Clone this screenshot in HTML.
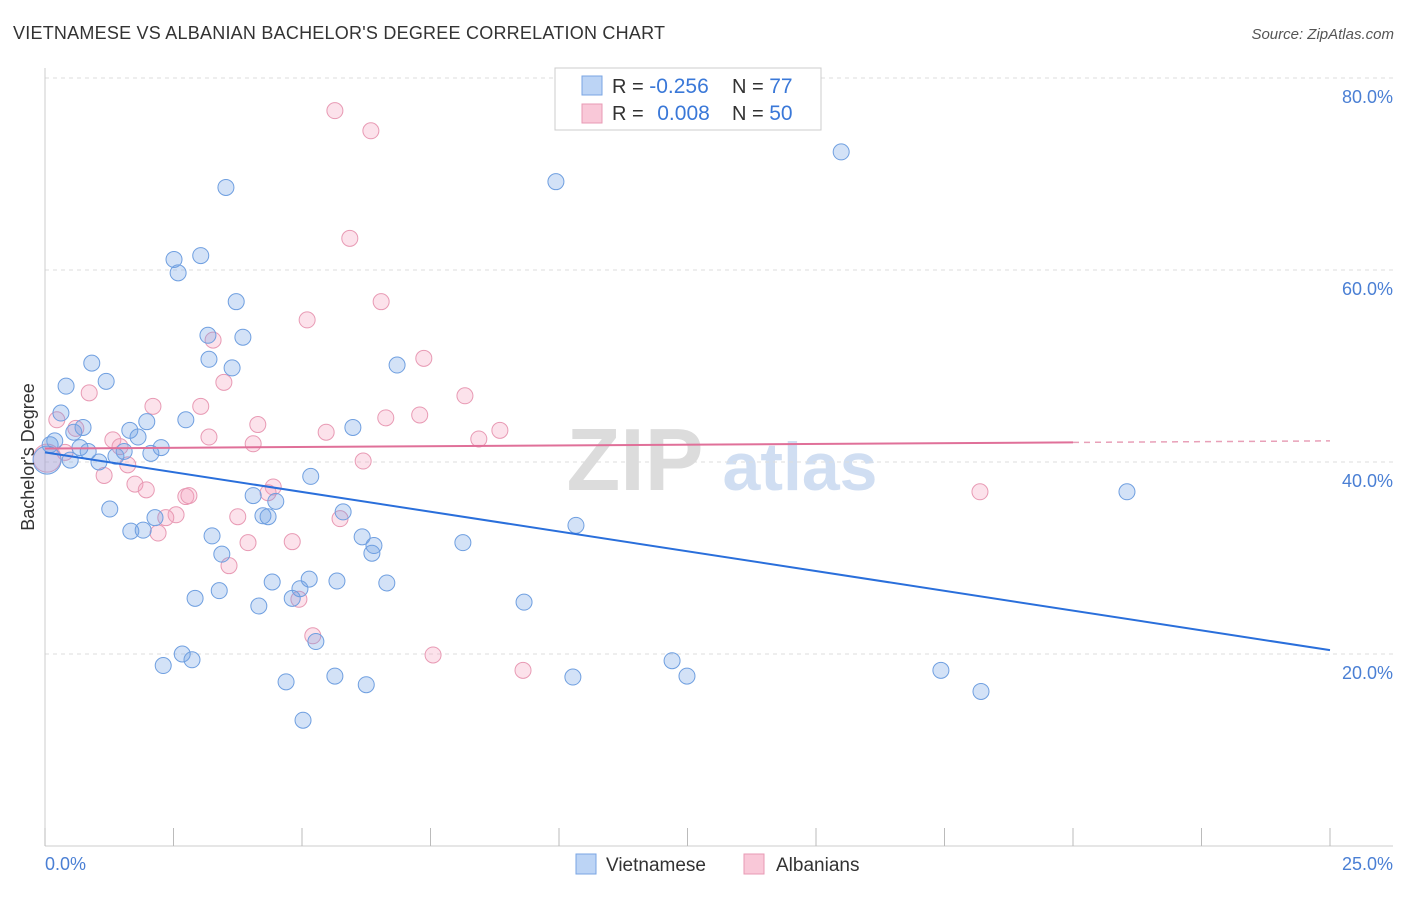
<!DOCTYPE html>
<html><head><meta charset="utf-8">
<style>
body{margin:0;background:#fff;font-family:"Liberation Sans",sans-serif;}
svg text{font-family:"Liberation Sans",sans-serif;}
</style></head>
<body>
<svg id="chart" width="1406" height="892" viewBox="0 0 1406 892">
<text x="13" y="39" font-size="18" fill="#333" textLength="652">VIETNAMESE VS ALBANIAN BACHELOR'S DEGREE CORRELATION CHART</text>
<text x="1394" y="39" font-size="15" font-style="italic" fill="#555" text-anchor="end">Source: ZipAtlas.com</text>
<g>
<text x="635" y="490" font-size="88" font-family="Liberation Serif" fill="#dcdcdc" text-anchor="middle" font-weight="bold">ZIP</text>
<text x="800" y="490" font-size="68" fill="#d0def2" text-anchor="middle" font-weight="bold">atlas</text>
</g>
<g id="grid"></g>
<g id="axes"></g>
<g id="points"></g>
<g id="trends"></g>
<g>
<rect x="555" y="68" width="266" height="62" fill="#fff" stroke="#ccc"/>
<rect x="582" y="76" width="20" height="19" fill="#bcd4f5" stroke="#7aa5e3"/>
<rect x="582" y="104" width="20" height="19" fill="#f9c8d8" stroke="#e89ab4"/>
<text x="612" y="93" font-size="20" fill="#333">R = <tspan fill="#3a78d8" font-size="21">-0.256</tspan></text>
<text x="732" y="93" font-size="20" fill="#333">N = <tspan fill="#3a78d8" font-size="21">77</tspan></text>
<text x="612" y="120" font-size="20" fill="#333">R = <tspan fill="#3a78d8" dx="8" font-size="21">0.008</tspan></text>
<text x="732" y="120" font-size="20" fill="#333">N = <tspan fill="#3a78d8" font-size="21">50</tspan></text>
</g>
<g>
<rect x="576" y="854" width="20" height="20" fill="#bcd4f5" stroke="#7aa5e3"/>
<text x="606" y="871" font-size="19" fill="#333">Vietnamese</text>
<rect x="744" y="854" width="20" height="20" fill="#f9c8d8" stroke="#e89ab4"/>
<text x="776" y="871" font-size="19" fill="#333">Albanians</text>
</g>
<text x="45" y="870" font-size="18" fill="#4a7fd4">0.0%</text>
<text x="1393" y="870" font-size="18" fill="#4a7fd4" text-anchor="end">25.0%</text>
<text transform="translate(34,457) rotate(-90)" font-size="18" fill="#333" text-anchor="middle">Bachelor's Degree</text>
</svg>
<script>
const yTicks=[20,40,60,80];
const yTickLabels=["20.0%","40.0%","60.0%","80.0%"];
const xTicks=[0,2.5,5,7.5,10,12.5,15,17.5,20,22.5,25];
const vietX=[15.49,9.94,3.52,2.51,3.03,2.59,3.72,3.17,3.85,3.19,3.64,0.91,6.85,0.41,1.19,0.31,2.74,1.98,0.74,1.65,5.99,0.56,1.81,0.19,0.10,0.68,0.84,2.26,1.54,2.06,1.38,0.49,1.05,5.17,4.05,4.49,1.26,5.80,4.24,4.34,2.14,10.33,1.67,1.91,3.25,6.17,8.13,6.40,6.36,3.44,5.14,5.68,4.42,6.65,4.96,3.39,2.92,4.81,9.32,4.16,5.27,2.67,2.86,2.30,12.20,17.43,5.64,10.27,12.49,4.69,6.25,18.21,5.02,21.05,0.04];
const vietY=[72.3,69.2,68.6,61.1,61.5,59.7,56.7,53.2,53.0,50.7,49.8,50.3,50.1,47.9,48.4,45.1,44.4,44.2,43.6,43.3,43.6,43.1,42.6,42.2,41.8,41.5,41.1,41.5,41.1,40.9,40.6,40.2,40.0,38.5,36.5,35.9,35.1,34.8,34.4,34.3,34.2,33.4,32.8,32.9,32.3,32.2,31.6,31.3,30.5,30.4,27.8,27.6,27.5,27.4,26.8,26.6,25.8,25.8,25.4,25.0,21.3,20.0,19.4,18.8,19.3,18.3,17.7,17.6,17.7,17.1,16.8,16.1,13.1,36.9,40.2];
const albX=[5.64,6.34,5.93,6.54,5.10,7.37,3.27,3.48,0.86,8.17,2.10,3.03,7.29,6.63,4.14,0.23,8.85,5.47,0.60,8.44,3.19,1.32,4.05,1.46,0.39,6.19,1.61,1.15,1.75,1.97,4.44,4.34,2.74,2.80,18.19,2.55,3.75,5.74,2.35,2.20,3.95,4.81,3.58,4.94,5.21,7.55,9.30,0.04];
const albY=[76.6,74.5,63.3,56.7,54.8,50.8,52.7,48.3,47.2,46.9,45.8,45.8,44.9,44.6,43.9,44.4,43.3,43.1,43.5,42.4,42.6,42.3,41.9,41.6,41.0,40.1,39.7,38.6,37.7,37.1,37.4,36.8,36.4,36.5,36.9,34.5,34.3,34.1,34.2,32.6,31.6,31.7,29.2,25.7,21.9,19.9,18.3,40.4];
const vietTrend=[41.0,20.4];
const albTrend=[41.4,42.2];
const albTrendSolidEnd=20;

const NS="http://www.w3.org/2000/svg";
const X0=45,X1=1330,Y0=846,YPER=9.6;
function sx(v){return X0+(v/25)*(X1-X0);}
function sy(v){return Y0-v*YPER;}
function mk(tag,attrs,parent){const e=document.createElementNS(NS,tag);for(const k in attrs)e.setAttribute(k,attrs[k]);parent.appendChild(e);return e;}
const grid=document.getElementById('grid'),axes=document.getElementById('axes'),pts=document.getElementById('points'),tr=document.getElementById('trends');
yTicks.forEach((t,i)=>{
  const l=mk('line',{x1:X0,x2:1393,y1:sy(t),y2:sy(t),stroke:'#ddd','stroke-dasharray':'4,4'},grid);
  
  
  const tx=mk('text',{x:1393,y:sy(t)+25,'font-size':18,fill:'#4a7fd4','text-anchor':'end'},grid);
  tx.textContent=yTickLabels[i];
  
  
});
const ya=mk('line',{x1:X0,x2:X0,y1:68,y2:Y0,stroke:'#ccc'},axes);


const xa=mk('line',{x1:X0,x2:1393,y1:Y0,y2:Y0,stroke:'#ccc'},axes);


xTicks.forEach(t=>{
  const l=mk('line',{x1:sx(t),x2:sx(t),y1:Y0-18,y2:Y0,stroke:'#bbb'},axes);
  
  
});
function drawPts(xs,ys,fill,stroke,name){
  xs.forEach((x,i)=>{
    const big=(i===xs.length-1);
    const c=mk('circle',{cx:sx(x),cy:sy(ys[i]),r:big?14:8,fill:fill,stroke:stroke,'stroke-width':1},pts);
    
    
  });
}
drawPts(albX,albY,'rgba(244,160,190,0.3)','#e89ab4','albanian-point');
drawPts(vietX,vietY,'rgba(110,160,230,0.3)','#6f9fe0','vietnamese-point');
const vl=mk('line',{x1:sx(0),y1:sy(vietTrend[0]),x2:sx(25),y2:sy(vietTrend[1]),stroke:'#2a6fdb','stroke-width':2},tr);


const ym=albTrend[0]+(albTrend[1]-albTrend[0])*albTrendSolidEnd/25;
const al=mk('line',{x1:sx(0),y1:sy(albTrend[0]),x2:sx(albTrendSolidEnd),y2:sy(ym),stroke:'#e07099','stroke-width':2},tr);


const ad=mk('line',{x1:sx(albTrendSolidEnd),y1:sy(ym),x2:sx(25),y2:sy(albTrend[1]),stroke:'#e8a0b8','stroke-width':1.5,'stroke-dasharray':'6,5'},tr);


</script>
</body></html>
